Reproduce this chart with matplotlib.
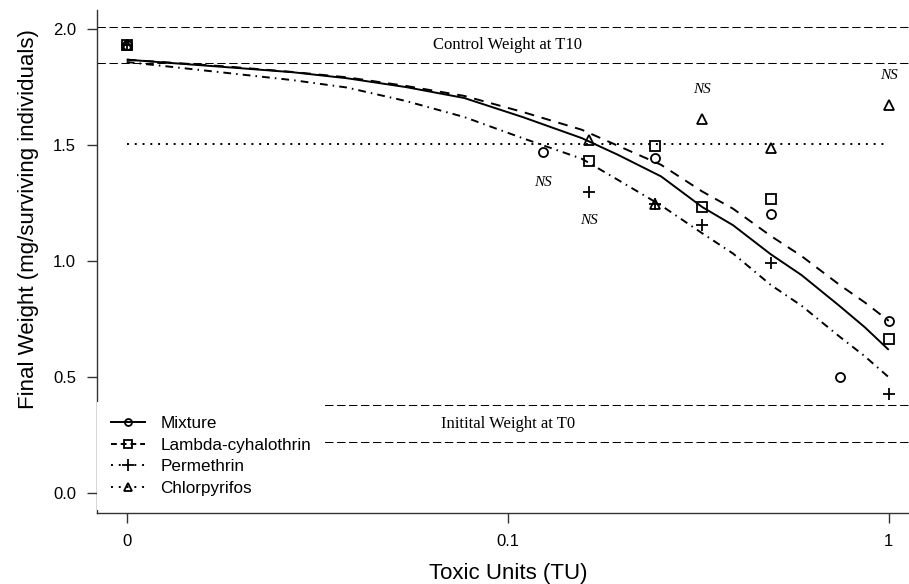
import numpy as np
import matplotlib
matplotlib.use("Agg")
import matplotlib.pyplot as plt
from matplotlib.lines import Line2D

plt.rcParams["font.family"] = ["Liberation Sans", "DejaVu Sans"]

# observed means (x in toxic units, 0 = control)
mix_x = [0, 0.125, 0.25, 0.5, 0.75, 1.0]
mix_y = [1.932, 1.470, 1.444, 1.204, 0.503, 0.743]
lam_x = [0, 0.167, 0.25, 0.333, 0.5, 1.0]
lam_y = [1.932, 1.432, 1.498, 1.233, 1.267, 0.665]
per_x = [0, 0.167, 0.25, 0.333, 0.5, 1.0]
per_y = [1.932, 1.296, 1.247, 1.156, 0.994, 0.427]
chl_x = [0, 0.167, 0.25, 0.333, 0.5, 1.0]
chl_y = [1.932, 1.520, 1.247, 1.612, 1.487, 1.671]

# fitted curves
fit_x = [0, 0.01, 0.02, 0.032, 0.05, 0.075, 0.11, 0.16, 0.2, 0.26, 0.333, 0.4, 0.5, 0.6, 0.75, 0.87, 1.0]
mix_fit = [1.868, 1.835, 1.814, 1.788, 1.750, 1.703, 1.621, 1.530, 1.458, 1.365, 1.233, 1.155,
           1.030, 0.940, 0.807, 0.715, 0.618]
lam_fit = [1.868, 1.838, 1.815, 1.792, 1.755, 1.712, 1.643, 1.566, 1.497, 1.415, 1.300, 1.226,
           1.109, 1.022, 0.898, 0.822, 0.743]
per_fit = [1.858, 1.810, 1.780, 1.748, 1.690, 1.621, 1.530, 1.441, 1.350, 1.240, 1.120, 1.033,
           0.898, 0.808, 0.675, 0.590, 0.500]
chl_fit_x = [0, 1.0]
chl_fit_y = [1.503, 1.503]

# reference bands
control_band = [1.852, 2.0095]
initial_band = [0.2196, 0.379]
band_labels = ["Control Weight at T10", "Initital Weight at T0"]

# "NS" annotations
ns_x = [0.125, 0.167, 0.333, 1.0]
ns_y = [1.339, 1.174, 1.741, 1.801]

x_ticks = [0, 0.1, 1]
x_ticklabels = ["0", "0.1", "1"]
y_ticks = [0.0, 0.5, 1.0, 1.5, 2.0]

OFFSET = 0.0125


def fwd(x):
    return np.log10(np.clip(np.asarray(x, dtype=float) + OFFSET, 1e-6, None))


def inv(u):
    return 10 ** np.asarray(u, dtype=float) - OFFSET


fig = plt.figure(figsize=(9.09, 5.84), dpi=100)
ax = fig.add_axes([0.1067, 0.1216, 0.8933, 0.8613])
ax.set_xscale("function", functions=(fwd, inv))
ax.set_xlim(-0.00197, 1.1257)
ax.set_ylim(-0.0848, 2.082)

lw = 1.4
ax.plot(fit_x, mix_fit, color="black", lw=lw, solid_capstyle="butt")
ax.plot(fit_x, lam_fit, color="black", lw=lw, dashes=(5, 4))
ax.plot(fit_x, per_fit, color="black", lw=lw, dashes=(4, 2.6, 0.8, 2.6))
ax.plot(chl_fit_x, chl_fit_y, color="black", lw=lw, dashes=(1, 3))

for band in (control_band, initial_band):
    for val in band:
        ax.axhline(val, color="black", lw=0.75, dashes=(8, 3.5))

for label, band in zip(band_labels, (control_band, initial_band)):
    ax.text(0.1, np.mean(band), label, ha="center", va="center",
            fontfamily="Liberation Serif", fontsize=12)

mk = dict(ls="none", mfc="none", mec="black", mew=1.3)
ax.plot(mix_x, mix_y, marker="o", ms=6.5, **mk)
ax.plot(lam_x, lam_y, marker="s", ms=6.5, **mk)
ax.plot(per_x, per_y, marker="+", ms=9, **mk)
ax.plot(chl_x, chl_y, marker="^", ms=7, **mk)

for x, y in zip(ns_x, ns_y):
    ax.text(x, y, "NS", ha="center", va="center", fontfamily="Liberation Serif",
            style="italic", fontsize=11)

handles = [
    Line2D([], [], color="black", lw=lw, marker="o", ms=5, mfc="none", mew=1.3),
    Line2D([], [], color="black", lw=lw, dashes=(3, 2), marker="s", ms=5.5, mfc="none", mew=1.3),
    Line2D([], [], color="black", lw=lw, dashes=(1, 3), marker="+", ms=8, mew=1.3),
    Line2D([], [], color="black", lw=lw, dashes=(1, 3), marker="^", ms=6, mfc="none", mew=1.3),
]
leg = ax.legend(handles, ["Mixture", "Lambda-cyhalothrin", "Permethrin", "Chlorpyrifos"],
                loc="lower left", bbox_to_anchor=(0, 0.006), borderaxespad=0,
                fontsize=12.3, frameon=True, facecolor="white", edgecolor="none",
                framealpha=1, fancybox=False, handlelength=2.0, handletextpad=0.9,
                labelspacing=0.4, borderpad=0.8)

for side in ("top", "right"):
    ax.spines[side].set_visible(False)
for side in ("left", "bottom"):
    ax.spines[side].set_color("#333333")
    ax.spines[side].set_linewidth(1.0)

ax.set_xticks(x_ticks)
ax.set_xticklabels(x_ticklabels)
ax.minorticks_off()
ax.set_yticks(y_ticks)
ax.set_yticklabels([f"{v:.1f}" for v in y_ticks])
ax.tick_params(direction="out", length=7.2, width=1, colors="#333333",
               labelcolor="black", labelsize=12, pad=8)

ax.set_xlabel("Toxic Units (TU)", fontsize=16)
ax.set_ylabel("Final Weight (mg/surviving individuals)", fontsize=16)
ax.xaxis.set_label_coords(0.506, -0.1)
ax.yaxis.set_label_coords(-0.072, 0.584)

fig.savefig("out.png", dpi=100)
